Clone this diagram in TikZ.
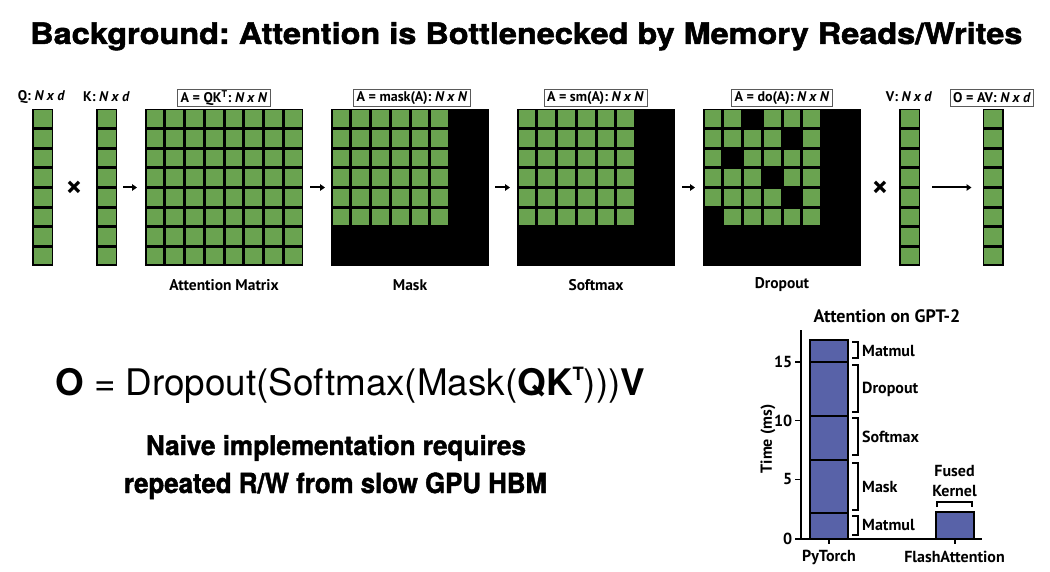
\documentclass[tikz,border=0pt]{standalone}
\usepackage{fontspec}
\usepackage{graphicx}
\setmainfont{PT Sans}
\newfontfamily\heros{TeX Gyre Heros}
\newfontfamily\herosH[BoldFeatures={FakeBold=1.6}]{TeX Gyre Heros}
\usetikzlibrary{arrows.meta}
\definecolor{cellgreen}{RGB}{106,163,80}
\definecolor{barblue}{RGB}{88,98,168}
\definecolor{boxgray}{RGB}{90,90,90}
\frenchspacing
\newcommand{\mygrid}[6]{%
  \foreach \ii in {0,...,#3}{\foreach \jj in {0,...,#4}{%
    \fill[cellgreen] ({#1+\ii*#5+1.5},{#2+\jj*#6+1.5}) rectangle ({#1+(\ii+1)*#5-1.5},{#2+(\jj+1)*#6-1.5});}}}
\begin{document}
\begin{tikzpicture}[x=1pt,y=-1pt,
  blk/.style={fill=black, draw=none, inner sep=0pt, outer sep=0pt},
  lab/.style={font=\fontsize{14}{16}\selectfont\bfseries, inner sep=0pt},
  lbox/.style={lab, draw=boxgray, line width=0.9pt, inner xsep=3pt, inner ysep=0pt, minimum height=16.5pt},
  mcap/.style={font=\fontsize{15.5}{17}\selectfont\bfseries, inner sep=0pt},
  arr/.style={line width=2pt, -{Triangle[length=5pt,width=6.5pt]}},
  xsign/.style={font=\fontsize{30}{30}\selectfont\bfseries, inner sep=0pt},
  barbox/.style={fill=barblue, draw=black, line width=1.8pt, inner sep=0pt, outer sep=0pt, minimum width=38pt},
  brk/.style={line width=1.6pt},
  axisline/.style={line width=1.8pt},
  clab/.style={font=\fontsize{16}{20}\selectfont\bfseries, inner sep=0pt},
]
\useasboundingbox (0,0) rectangle (1050,572);

% title
\node[anchor=base west, inner sep=0pt] (title) at (30,44)
  {\resizebox{992pt}{22pt}{\herosH\bfseries Background: Attention is Bottlenecked by Memory Reads/Writes}};

% matrices
\node[blk, minimum width=21pt, minimum height=157pt] (Q) at (42.5,187.5) {};
\node[blk, minimum width=21pt, minimum height=157pt] (K) at (106.5,187.5) {};
\node[blk, minimum width=158pt, minimum height=157pt] (att) at (224,187.5) {};
\node[blk, minimum width=158pt, minimum height=157pt] (mask) at (410,187.5) {};
\node[blk, minimum width=158pt, minimum height=157pt] (sm) at (596,187.5) {};
\node[blk, minimum width=158pt, minimum height=157pt] (do) at (782,187.5) {};
\node[blk, minimum width=21pt, minimum height=157pt] (V) at (909.5,187.5) {};
\node[blk, minimum width=21pt, minimum height=157pt] (O) at (993,187.5) {};

\mygrid{32}{109}{0}{7}{21}{19.625}
\mygrid{96}{109}{0}{7}{21}{19.625}
\mygrid{145}{109}{7}{7}{19.75}{19.625}
\mygrid{331}{109}{5}{5}{19.75}{19.625}
\mygrid{517}{109}{5}{5}{19.75}{19.625}
\mygrid{703}{109}{5}{5}{19.75}{19.625}
\foreach \c/\r in {2/0,4/1,1/2,3/3,4/4,0/5}
  \fill[black] ({703+\c*19.75+1},{109+\r*19.625+1}) rectangle ++(17.75,17.6);
\mygrid{899}{109}{0}{7}{21}{19.625}
\mygrid{982.5}{109}{0}{7}{21}{19.625}

% labels
\node[lab] (qlab) at (41.5,97) {Q: \textit{N x d}};
\node[lab] (klab) at (106.5,97) {K: \textit{N x d}};
\node[lbox] (attlab) at (224,98) {A = QK\textsuperscript{T}: \textit{N x N}};
\node[lbox] (masklab) at (412,98) {A = mask(A): \textit{N x N}};
\node[lbox] (smlab) at (595.5,98) {A = sm(A): \textit{N x N}};
\node[lbox] (dolab) at (782,98) {A = do(A): \textit{N x N}};
\node[lab] (vlab) at (909,97) {V: \textit{N x d}};
\node[lbox] (olab) at (992,98) {O = AV: \textit{N x d}};

\node[mcap] (attcap) at (224,285) {Attention Matrix};
\node[mcap] (maskcap) at (410,285) {Mask};
\node[mcap] (smcap) at (596,285) {Softmax};
\node[mcap] (docap) at (782,285) {Dropout};

% operators and arrows
\node[xsign] (x1) at (74,189) {×};
\node[xsign] (x2) at (880,189) {×};
\draw[arr, shorten <=6pt, shorten >=8pt] (K) -- (att);
\draw[arr, shorten <=7pt, shorten >=6pt] (att) -- (mask);
\draw[arr, shorten <=6pt, shorten >=7pt] (mask) -- (sm);
\draw[arr, shorten <=7pt, shorten >=8pt] (sm) -- (do);
\draw[arr, shorten <=12pt, shorten >=11pt] (V) -- (O);

% formula and note
\node[anchor=base west, inner sep=0pt] (formula) at (55,395)
  {\resizebox{590pt}{28pt}{\heros\textbf{O} = Dropout(Softmax(Mask(\textbf{QK}\raisebox{0.4em}{\fontsize{5}{5}\selectfont\bfseries T})))\textbf{V}}};
\node[anchor=base, inner sep=0pt] (note1) at (336,455)
  {\resizebox{380pt}{20pt}{\herosH\bfseries Naive implementation requires}};
\node[anchor=base, inner sep=0pt] (note2) at (335.5,493)
  {\resizebox{423pt}{20.5pt}{\herosH\bfseries repeated R/W from slow GPU HBM}};

% chart
\node[clab, font=\fontsize{18}{20}\selectfont\bfseries] (ctitle) at (887,316) {Attention on GPT-2};
\coordinate (orig) at (801,539);
\node[barbox, anchor=south west, minimum height=199pt] (pt) at (810,539) {};
\node[barbox, anchor=south west, minimum height=27pt] (fa) at (936,539) {};
\foreach \yy in {362,416,460,513} \draw[axisline] (810,\yy) -- (848,\yy);
\draw[axisline] (801,330) -- (orig) -- (982,539);
\foreach \v/\yy in {0/539,5/479.5,10/420.5,15/362} {
  \draw[axisline] (795,\yy) -- (801,\yy);
  \node[clab, anchor=east] (tick\v) at (792.5,\yy) {\v};
}
\draw[axisline] (pt.south) -- ++(0,5);
\draw[axisline] (fa.south) -- ++(0,5);
\node[clab] (ptl) at (829,557) {PyTorch};
\node[clab] (fal) at (954.5,557) {FlashAttention};
\node[clab, rotate=90] (tl) at (768,439) {Time (ms)};

\draw[brk] (852,342) -- (858,342) -- (858,358) -- (852,358);
\draw[brk] (852,365) -- (858,365) -- (858,412) -- (852,412);
\draw[brk] (852,418) -- (858,418) -- (858,455) -- (852,455);
\draw[brk] (852,463) -- (858,463) -- (858,510) -- (852,510);
\draw[brk] (852,516) -- (858,516) -- (858,535) -- (852,535);
\node[clab, anchor=west] (l1) at (862,351) {Matmul};
\node[clab, anchor=west] (l2) at (862,389) {Dropout};
\node[clab, anchor=west] (l3) at (862,437) {Softmax};
\node[clab, anchor=west] (l4) at (862,487) {Mask};
\node[clab, anchor=west] (l5) at (862,525) {Matmul};
\draw[brk] (937,507) -- (937,502) -- (972,502) -- (972,507);
\node[clab, align=center] (fk) at (954.5,481) {Fused\\Kernel};
\end{tikzpicture}
\end{document}
